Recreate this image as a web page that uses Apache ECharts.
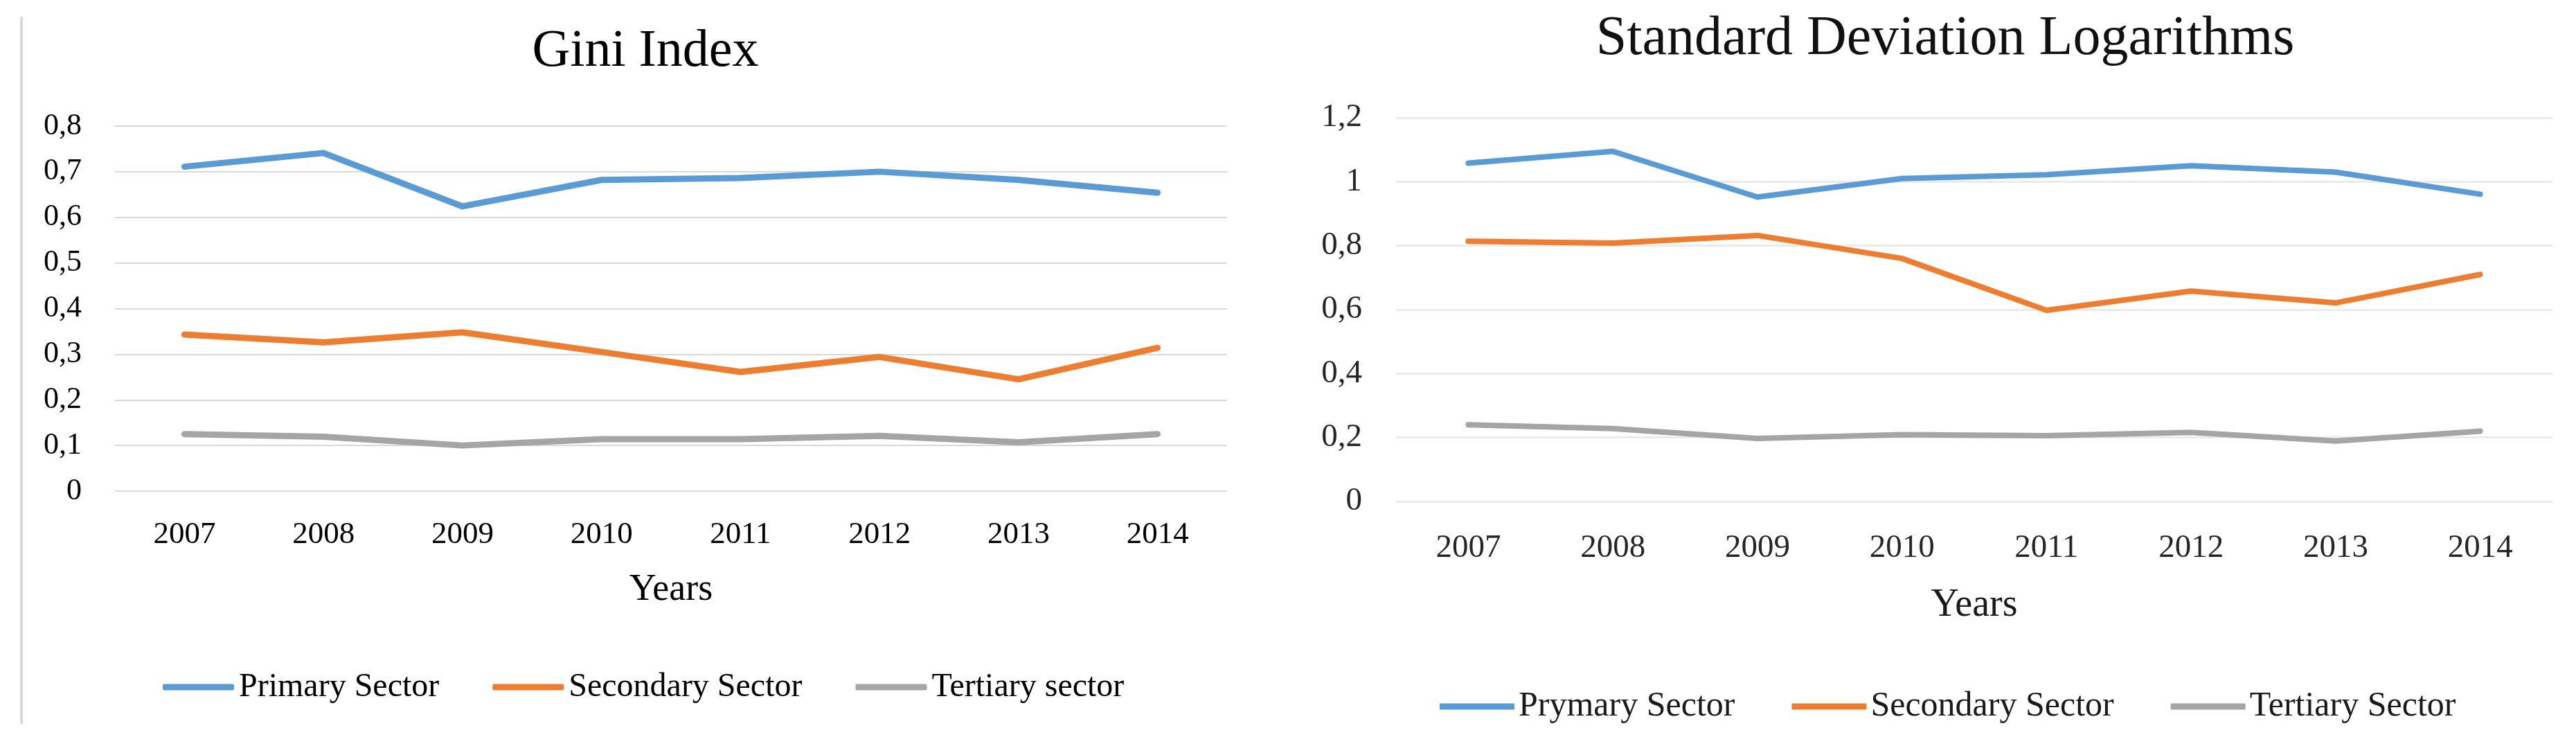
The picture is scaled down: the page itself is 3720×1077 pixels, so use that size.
<!DOCTYPE html>
<html>
<head>
<meta charset="utf-8">
<script src="https://cdn.jsdelivr.net/npm/echarts@6/dist/echarts.min.js"></script>
<style>
  html, body { margin: 0; padding: 0; background: #fff; }
  #chart { width: 3720px; height: 1077px; }
</style>
</head>
<body>
<div id="chart"></div>
<script>
// ---- data ----
var years = ['2007', '2008', '2009', '2010', '2011', '2012', '2013', '2014'];

var giniPrimary   = [0.711, 0.741, 0.624, 0.682, 0.686, 0.700, 0.682, 0.654];
var giniSecondary = [0.343, 0.326, 0.348, 0.305, 0.261, 0.294, 0.245, 0.314];
var giniTertiary  = [0.125, 0.119, 0.100, 0.114, 0.114, 0.121, 0.107, 0.125];

var sdlPrimary    = [1.058, 1.095, 0.952, 1.010, 1.022, 1.050, 1.030, 0.961];
var sdlSecondary  = [0.814, 0.808, 0.832, 0.760, 0.598, 0.658, 0.621, 0.710];
var sdlTertiary   = [0.240, 0.228, 0.197, 0.209, 0.206, 0.216, 0.189, 0.220];

var giniTicks = ['0', '0,1', '0,2', '0,3', '0,4', '0,5', '0,6', '0,7', '0,8'];
var sdlTicks  = ['0', '0,2', '0,4', '0,6', '0,8', '1', '1,2'];

var leftTitle = 'Gini Index';
var rightTitle = 'Standard Deviation Logarithms';
var axisName = 'Years';
var leftNames = ['Primary Sector', 'Secondary Sector', 'Tertiary sector'];
var rightNames = ['Prymary Sector', 'Secondary Sector', 'Tertiary Sector'];

// ---- styling ----
var FONT = '"Liberation Serif", "Times New Roman", serif';
var BLUE = '#5b9bd5', ORANGE = '#ed7d31', GREY = '#a5a5a5';

var chart = echarts.init(document.getElementById('chart'), null, { renderer: 'canvas', devicePixelRatio: 1 });

function lineSeries(name, data, color, width, idx) {
  return {
    type: 'line', name: name, data: data,
    xAxisIndex: idx, yAxisIndex: idx,
    symbol: 'none', showSymbol: false,
    itemStyle: { color: color },
    lineStyle: { color: color, width: width, cap: 'round', join: 'round' },
    emphasis: { disabled: true },
    animation: false
  };
}

var option = {
  animation: false,
  backgroundColor: '#ffffff',
  graphic: [
    { type: 'line', shape: { x1: 31, y1: 24, x2: 31, y2: 1045 }, style: { stroke: '#d9d9d9', lineWidth: 4 } },
    { type: 'text', x: 932, y: 75, style: { text: leftTitle, font: '76px ' + FONT, fill: '#000', textAlign: 'center', textVerticalAlign: 'middle' } },
    { type: 'text', x: 2809, y: 57, style: { text: rightTitle, font: '80px ' + FONT, fill: '#111', textAlign: 'center', textVerticalAlign: 'middle' } }
  ],
  grid: [
    { left: 166, top: 182, width: 1606, height: 527, containLabel: false },
    { left: 2016, top: 170, width: 1670, height: 554, containLabel: false }
  ],
  xAxis: [
    {
      gridIndex: 0, type: 'category', data: years, boundaryGap: true,
      axisLine: { show: false }, axisTick: { show: false },
      axisLabel: { margin: 41, fontFamily: FONT, fontSize: 45, color: '#000' },
      name: axisName, nameLocation: 'middle', nameGap: 116,
      nameTextStyle: { fontFamily: FONT, fontSize: 54, color: '#000' }
    },
    {
      gridIndex: 1, type: 'category', data: years, boundaryGap: true,
      axisLine: { show: false }, axisTick: { show: false },
      axisLabel: { margin: 44, fontFamily: FONT, fontSize: 47, color: '#262626' },
      name: axisName, nameLocation: 'middle', nameGap: 122,
      nameTextStyle: { fontFamily: FONT, fontSize: 56, color: '#1a1a1a' }
    }
  ],
  yAxis: [
    {
      gridIndex: 0, type: 'value', min: 0, max: 0.8, interval: 0.1,
      axisLine: { show: false }, axisTick: { show: false },
      splitLine: { show: true, lineStyle: { color: '#d9d9d9', width: 2 } },
      axisLabel: {
        margin: 48, fontFamily: FONT, fontSize: 44, color: '#000',
        formatter: function (v) { return giniTicks[Math.round(v / 0.1)]; }
      }
    },
    {
      gridIndex: 1, type: 'value', min: 0, max: 1.2, interval: 0.2,
      axisLine: { show: false }, axisTick: { show: false },
      splitLine: { show: true, lineStyle: { color: '#ebebeb', width: 3 } },
      axisLabel: {
        margin: 49, fontFamily: FONT, fontSize: 47, color: '#262626',
        formatter: function (v) { return sdlTicks[Math.round(v / 0.2)]; }
      }
    }
  ],
  legend: [
    {
      data: leftNames, left: 235, top: 968, padding: 0, itemGap: 77,
      icon: 'roundRect', itemWidth: 103, itemHeight: 9, selectedMode: false,
      textStyle: { fontFamily: FONT, fontSize: 48, color: '#000', padding: [0, 0, 0, 2] }
    },
    {
      data: rightNames, left: 2079, top: 995, padding: 0, itemGap: 82,
      icon: 'rect', itemWidth: 108, itemHeight: 9, selectedMode: false,
      textStyle: { fontFamily: FONT, fontSize: 50, color: '#1a1a1a', padding: [0, 0, 0, 1] }
    }
  ],
  series: [
    lineSeries(leftNames[0], giniPrimary, BLUE, 9, 0),
    lineSeries(leftNames[1], giniSecondary, ORANGE, 9, 0),
    lineSeries(leftNames[2], giniTertiary, GREY, 9, 0),
    lineSeries(rightNames[0], sdlPrimary, BLUE, 8, 1),
    lineSeries(rightNames[1], sdlSecondary, ORANGE, 8, 1),
    lineSeries(rightNames[2], sdlTertiary, GREY, 8, 1)
  ]
};

chart.setOption(option);
</script>
</body>
</html>
